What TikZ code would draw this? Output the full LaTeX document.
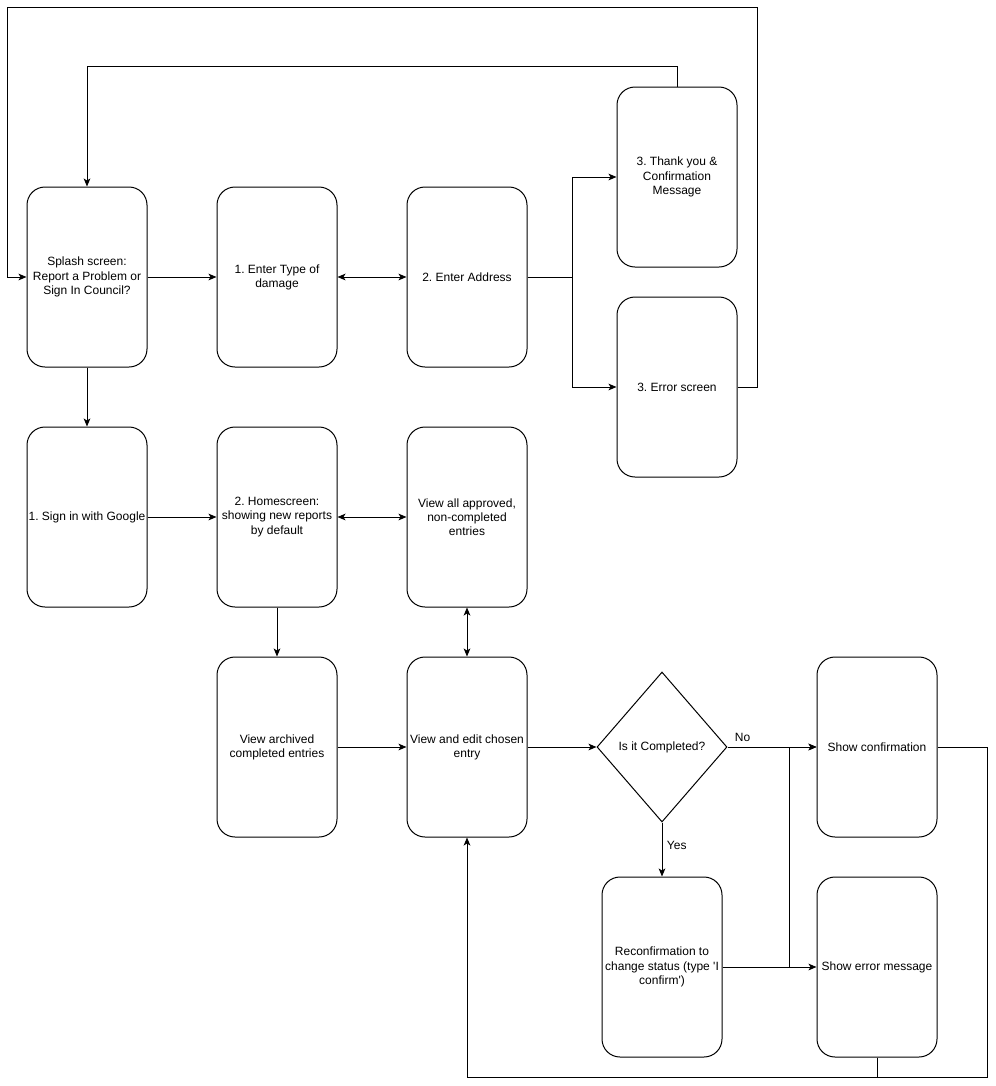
\documentclass[tikz,border=0pt]{standalone}
\usepackage{fontspec}
\setmainfont{Liberation Sans}
\usetikzlibrary{arrows.meta, positioning, shapes.geometric}

\begin{document}
\frenchspacing
\begin{tikzpicture}[x=0.75pt, y=-0.75pt, ->, >={Stealth[length=6pt, width=5pt, inset=1.5pt]}, line width=0.75pt, node distance=142.5pt,
  every node/.style={font=\fontsize{9}{10.6}\selectfont}]
  \tikzstyle{screen}=[draw=black, rounded corners=13.5pt, minimum width=90pt, minimum height=135pt, align=center, inner sep=0pt]
  \tikzstyle{decision}=[draw=black, diamond, aspect=0.87, minimum width=97.5pt, minimum height=112.5pt, inner sep=0pt, align=center]
  \useasboundingbox (0,0) rectangle (996,1086);

  % Report a problem
  \node[screen] (splash) at (87,277) {Splash screen:\\ Report a Problem or\\ Sign In Council?};
  \node[screen, right of=splash] (type) {1. Enter Type of\\ damage};
  \node[screen, right of=type] (addr) {2. Enter Address};
  \node[screen] (thank) at (677,177) {3. Thank you \&\\ Confirmation\\ Message};
  \node[screen] (err) at (677,387) {3. Error screen};

  % Council
  \node[screen, below of=splash, node distance=180pt] (signin) {1. Sign in with Google};
  \node[screen, right of=signin] (home) {2. Homescreen:\\ showing new reports\\ by default};
  \node[screen, right of=home] (viewall) {View all approved,\\ non-completed\\ entries};
  \node[screen, below of=home, node distance=172.5pt] (archived) {View archived\\ completed entries};
  \node[screen, right of=archived] (edit) {View and edit chosen\\ entry};
  \node[decision] (completed) at (662,747) {Is it Completed?};
  \node[screen] (showconf) at (877,747) {Show confirmation};
  \node[screen] (reconf) at (662,967) {Reconfirmation to\\ change status (type \textquotesingle I\\ confirm\textquotesingle)};
  \node[screen] (showerr) at (877,967) {Show error message};

  \coordinate (topright) at (757,7);
  \coordinate (topleft) at (7,7);
  \coordinate (bottom) at (987,1077);

  % Transitions
  \draw (splash) -- (type);
  \draw[<->] (type) -- (addr);
  \draw (addr.east) -- ++(45,0) |- (thank.west);
  \draw (addr.east) -- ++(45,0) |- (err.west);
  \draw (thank.north) -- ++(0,-20) -| (splash.north);
  \draw (err.east) -| (topright) -- (topleft) |- (splash.west);
  \draw (splash) -- (signin);
  \draw (signin) -- (home);
  \draw[<->] (home) -- (viewall);
  \draw (home) -- (archived);
  \draw[<->] (viewall) -- (edit);
  \draw (archived) -- (edit);
  \draw (edit) -- (completed);
  \draw (completed) -- node[pos=0.17, above] {No} (showconf);
  \draw (completed) -- node[pos=0.43, right] {Yes} (reconf);
  \draw (reconf) -- (showerr);
  \draw (reconf.east) -- ++(67,0) |- (showconf.west);
  \draw (showconf.east) -| (bottom) -| (edit.south);
  \draw[-] (showerr.south) -- (showerr.south |- bottom);

\end{tikzpicture}
\end{document}
